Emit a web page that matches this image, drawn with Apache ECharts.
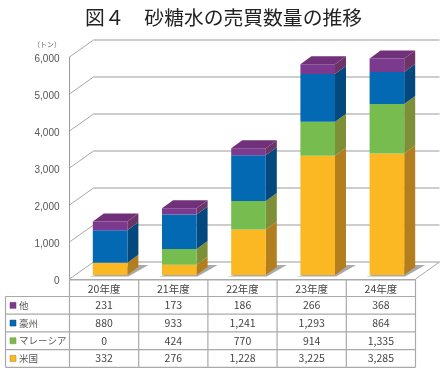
<!DOCTYPE html>
<html>
<head>
<meta charset="utf-8">
<style>
html, body { margin: 0; padding: 0; background: #fff; }
#chart { width: 444px; height: 373px; }
</style>
<script src="https://cdn.jsdelivr.net/npm/echarts@6/dist/echarts.min.js"></script>
</head>
<body>
<div id="chart"></div>
<script>
const categories = ['20年度', '21年度', '22年度', '23年度', '24年度'];
const usa = [332, 276, 1228, 3225, 3285];
const malaysia = [0, 424, 770, 914, 1335];
const australia = [880, 933, 1241, 1293, 864];
const others = [231, 173, 186, 266, 368];
const yTicks = [0, 1000, 2000, 3000, 4000, 5000, 6000];

const FONT = '"Noto Sans CJK JP", sans-serif';

// 奥行き（軸の前面と背面のずれ）
const WALL_X = 24, WALL_Y = -17;
// 棒の奥行きと床の上での位置
const SIDE_X = 11, SIDE_Y = -8, BAR_X = 6, BAR_Y = -4;

// bottom to top of the stack
const stackSeries = [
  { name: '米国', values: usa, front: '#FBB822', side: '#B37F1E' },
  { name: 'マレーシア', values: malaysia, front: '#76BC4E', side: '#7D9038' },
  { name: '豪州', values: australia, front: '#0369B3', side: '#04497D' },
  { name: '他', values: others, front: '#7B3A8E', side: '#6D3468', top: '#70307A' }
];
// table order is top to bottom
const tableRows = [stackSeries[3], stackSeries[2], stackSeries[1], stackSeries[0]];

const TABLE_LEFT = 5.5, TABLE_AXIS = 69.5, TABLE_RIGHT = 415.5;
const TABLE_TOP = 280, TABLE_HEADER = 296.5, ROW_H = 17.7;

function poly(points, fill) {
  return { type: 'polygon', shape: { points: points }, style: { fill: fill, stroke: null } };
}

function barData(values, baseValues) {
  return values.map((v, i) => [i, baseValues[i], baseValues[i] + v]);
}

function barSeries(s, baseValues) {
  return {
    type: 'custom',
    name: s.name,
    xAxisIndex: 0,
    yAxisIndex: 0,
    z: 5,
    encode: { x: 0, y: [1, 2] },
    data: barData(s.values, baseValues),
    renderItem: function (params, api) {
      const i = api.value(0);
      const w = api.size([1, 0])[0] * 0.5;
      const x0 = api.coord([i, 0])[0] - w / 2 + BAR_X;
      const x1 = x0 + w;
      const y0 = api.coord([i, api.value(1)])[1] + BAR_Y;
      const y1 = api.coord([i, api.value(2)])[1] + BAR_Y;
      if (y0 - y1 < 0.01) return null;
      const children = [
        poly([[x1, y0], [x1 + SIDE_X, y0 + SIDE_Y], [x1 + SIDE_X, y1 + SIDE_Y], [x1, y1]], s.side),
        poly([[x0, y0], [x1, y0], [x1, y1], [x0, y1]], s.front)
      ];
      if (s.top) {
        children.push(poly([[x0, y1], [x1, y1], [x1 + SIDE_X, y1 + SIDE_Y], [x0 + SIDE_X, y1 + SIDE_Y]], s.top));
      }
      return { type: 'group', children: children };
    }
  };
}

let running = categories.map(() => 0);
const bars = stackSeries.map(s => {
  const item = barSeries(s, running);
  running = running.map((v, i) => v + s.values[i]);
  return item;
});

// 床の上の影
const shadowSeries = {
  type: 'custom',
  xAxisIndex: 0,
  yAxisIndex: 0,
  z: 4,
  silent: true,
  encode: { x: 0, y: 1 },
  data: categories.map((c, i) => [i, 0]),
  renderItem: function (params, api) {
    const i = api.value(0);
    const w = api.size([1, 0])[0] * 0.5;
    const x0 = api.coord([i, 0])[0] - w / 2 + BAR_X;
    const x1 = x0 + w;
    const y0 = api.coord([i, 0])[1] + BAR_Y;
    return {
      type: 'group',
      children: [poly([[x0 - 3, y0 + 1.5], [x1 + 1, y0 + 1.5], [x1 + 21, y0 - 10], [x1 + 6, y0 - 10]], '#a9a9a9')]
    };
  }
};

// 前面の軸から背面の壁への斜線
const diagonalSeries = {
  type: 'custom',
  xAxisIndex: 0,
  yAxisIndex: 0,
  z: 3,
  silent: true,
  encode: { y: 0 },
  data: yTicks.map(v => [v]),
  renderItem: function (params, api) {
    const y = api.coord([0, api.value(0)])[1];
    const x = params.coordSys.x;
    const line = (xx) => ({
      type: 'line',
      shape: { x1: xx, y1: y, x2: xx + WALL_X, y2: y + WALL_Y },
      style: { stroke: '#a8a8a8', lineWidth: 1 }
    });
    const children = [line(x)];
    if (api.value(0) === 0) children.push(line(x + params.coordSys.width));
    return { type: 'group', children: children };
  }
};

// 表の数値（x は軸から取る）
const tableSeries = {
  type: 'custom',
  xAxisIndex: 0,
  yAxisIndex: 0,
  z: 6,
  silent: true,
  encode: { x: 0 },
  data: categories.map((c, i) => [i]),
  renderItem: function (params, api) {
    const i = api.value(0);
    const x = api.coord([i, 0])[0];
    return {
      type: 'group',
      children: tableRows.map((row, r) => ({
        type: 'text',
        style: {
          x: x,
          y: TABLE_HEADER + ROW_H * (r + 0.5),
          text: row.values[i].toLocaleString('en-US'),
          fill: '#444',
          font: '10.5px ' + FONT,
          align: 'center',
          verticalAlign: 'middle'
        }
      }))
    };
  }
};

// 表の罫線と凡例
const tableBottom = TABLE_HEADER + ROW_H * tableRows.length;
const tableColor = '#a9a9a9';
const tableLine = (x1, y1, x2, y2) => ({
  type: 'line',
  shape: { x1: x1, y1: y1, x2: x2, y2: y2 },
  style: { stroke: tableColor, lineWidth: 1.2 },
  z: 7
});
const graphics = [
  tableLine(TABLE_AXIS, TABLE_TOP, TABLE_RIGHT, TABLE_TOP),
  tableLine(TABLE_LEFT, TABLE_HEADER, TABLE_RIGHT, TABLE_HEADER),
  tableLine(TABLE_LEFT, TABLE_HEADER, TABLE_LEFT, tableBottom)
];
for (let c = 0; c <= categories.length; c++) {
  const x = TABLE_AXIS + (TABLE_RIGHT - TABLE_AXIS) / categories.length * c;
  graphics.push(tableLine(x, TABLE_TOP, x, tableBottom));
}
tableRows.forEach((row, r) => {
  const yTop = TABLE_HEADER + ROW_H * r;
  graphics.push(tableLine(TABLE_LEFT, yTop + ROW_H, TABLE_RIGHT, yTop + ROW_H));
  graphics.push({
    type: 'rect',
    shape: { x: 10, y: yTop + ROW_H / 2 - 3, width: 6, height: 6 },
    style: { fill: row.front, stroke: row.side, lineWidth: 0.5 },
    z: 7
  });
  graphics.push({
    type: 'text',
    style: {
      x: 19,
      y: yTop + ROW_H / 2,
      text: row.name,
      fill: '#555',
      font: '9.5px ' + FONT,
      align: 'left',
      verticalAlign: 'middle'
    },
    z: 7
  });
});
graphics.push({
  type: 'text',
  style: {
    x: 47,
    y: 44,
    text: '（トン）',
    fill: '#666',
    font: '7px ' + FONT,
    align: 'center',
    verticalAlign: 'middle'
  }
});

const option = {
  animation: false,
  backgroundColor: '#fff',
  title: {
    text: '図４　砂糖水の売買数量の推移',
    left: 218.5,
    top: 3,
    textAlign: 'center',
    textStyle: { fontFamily: FONT, fontSize: 19.8, fontWeight: 'normal', color: '#222' }
  },
  grid: [
    { left: 69.5, top: 57, width: 346, height: 222 },
    { left: 69.5 + WALL_X, top: 57 + WALL_Y, width: 346, height: 222 }
  ],
  xAxis: [
    {
      type: 'category',
      gridIndex: 0,
      data: categories,
      axisTick: { show: false },
      axisLine: { lineStyle: { color: '#a8a8a8', width: 1 } },
      axisLabel: { color: '#444', fontFamily: FONT, fontSize: 10.5, margin: 5 }
    },
    { type: 'category', gridIndex: 1, data: categories, show: false }
  ],
  yAxis: [
    {
      type: 'value',
      gridIndex: 0,
      min: 0,
      max: 6000,
      interval: 1000,
      axisLine: { show: true, lineStyle: { color: '#9a9a9a', width: 1 } },
      axisTick: { show: false },
      splitLine: { show: false },
      axisLabel: {
        margin: 10,
        formatter: v => '{a|' + v.toLocaleString('en-US') + '}',
        rich: {
          a: {
            color: '#555',
            fontFamily: '"Liberation Sans", sans-serif',
            fontSize: 10,
            padding: [4, 0, 0, 0]
          }
        }
      }
    },
    {
      type: 'value',
      gridIndex: 1,
      min: 0,
      max: 6000,
      interval: 1000,
      axisLine: { show: false },
      axisTick: { show: false },
      axisLabel: { show: false },
      splitLine: { show: true, lineStyle: { color: '#bdbdbd', width: 1.5 } }
    }
  ],
  graphic: graphics,
  series: [diagonalSeries, shadowSeries].concat(bars, [tableSeries])
};

const myChart = echarts.init(document.getElementById('chart'), null, { renderer: 'canvas' });
myChart.setOption(option);
</script>
</body>
</html>
